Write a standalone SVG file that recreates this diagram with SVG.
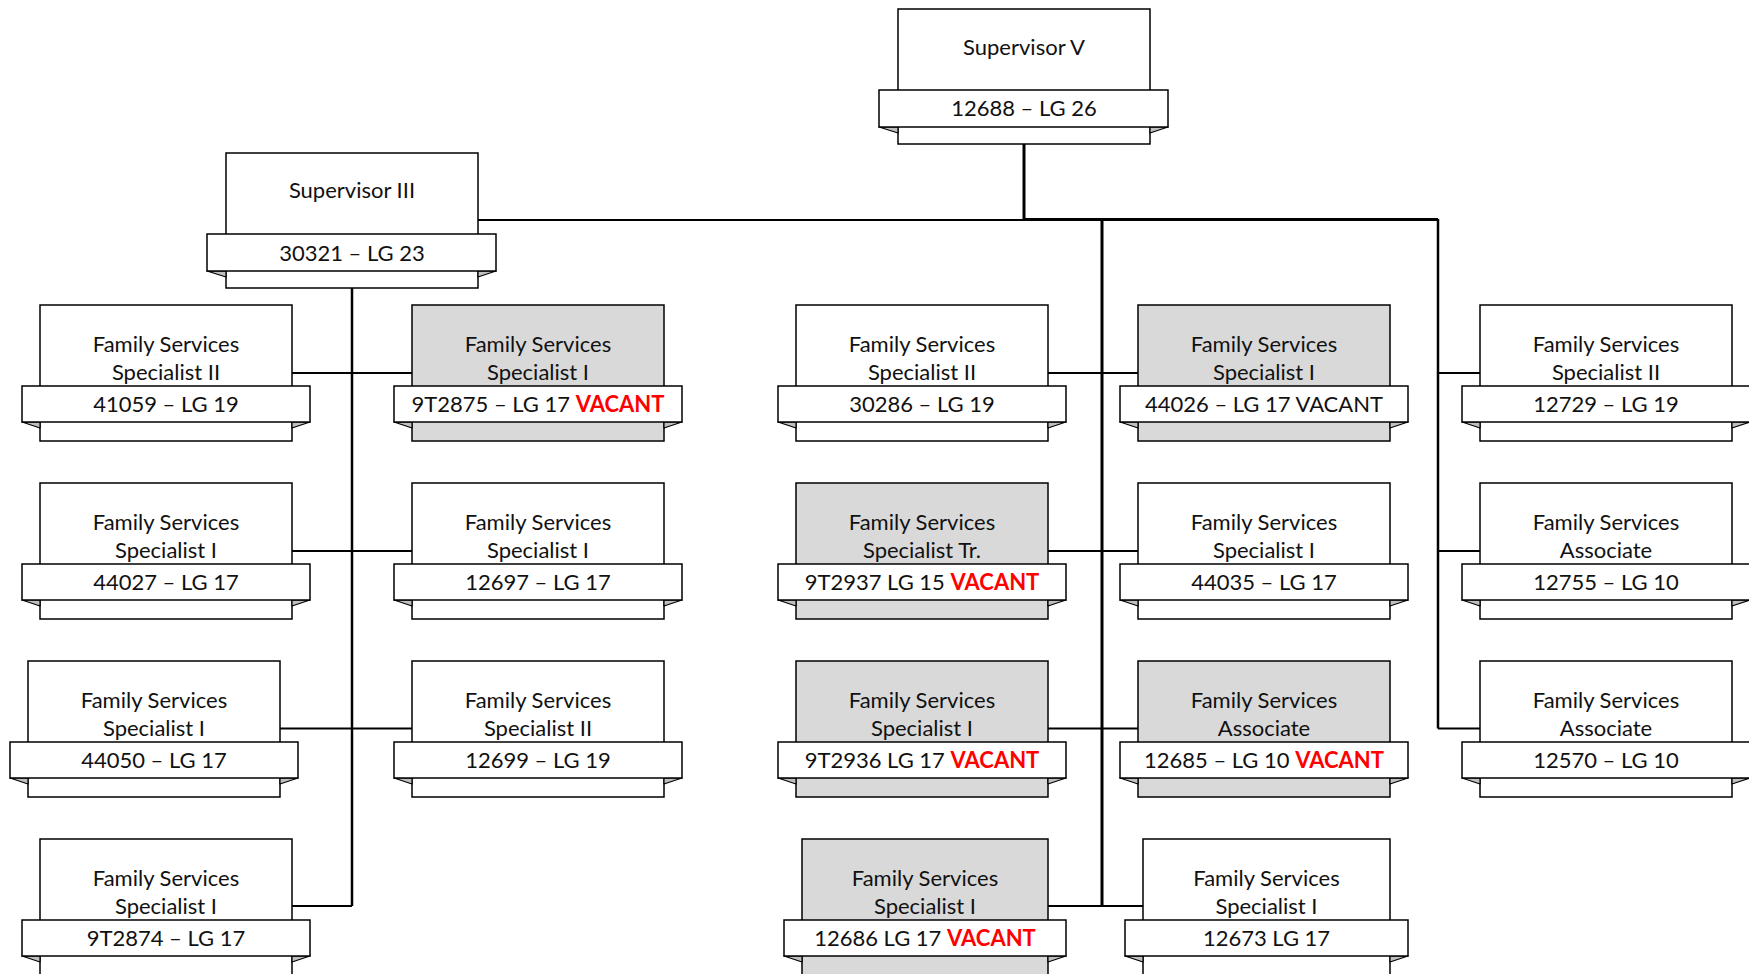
<svg xmlns="http://www.w3.org/2000/svg" width="1749" height="974" viewBox="0 0 1749 974">
<style>
.box{fill:#ffffff;stroke:#000;stroke-width:1.5}
.g{fill:#d9d9d9}
.rib{fill:#ffffff;stroke:#000;stroke-width:1.5}
.fold{fill:#bfbfbf;stroke:#000;stroke-width:1.2;stroke-linejoin:round}
.t{font-family:Lato,"Liberation Sans",sans-serif;font-size:22px;fill:#111;text-anchor:middle}
.v{fill:#ff0000;font-weight:bold}
.c{fill:none;stroke:#000;stroke-width:2}
.ct{fill:none;stroke:#000;stroke-width:3}
</style>
<rect width="1749" height="974" fill="#ffffff"/>
<g id="connectors">
<path class="ct" d="M1024,144 V220"/>
<path class="c" d="M478,220 H1024"/>
<path class="ct" d="M1024,219.5 H1438"/>
<path class="ct" d="M1102,219 V906"/>
<path class="c" d="M1438,219 V728.5" style="stroke-width:2.5"/>
<path class="c" d="M352,288 V906" style="stroke-width:2.5"/>
<path class="c" d="M292,373 H412 M292,551 H412 M280,728.5 H412 M292,906 H352"/>
<path class="c" d="M1048,373 H1138 M1048,551 H1138 M1048,728.5 H1138 M1048,906 H1143"/>
<path class="c" d="M1438,373 H1480 M1438,551 H1480 M1438,728.5 H1480"/>
</g>
<g id="sup5">
<rect class="box" x="898" y="9" width="252" height="135"/>
<polygon class="fold" points="879,127 898,127 898,133"/>
<polygon class="fold" points="1168,127 1150,127 1150,133"/>
<rect class="rib" x="879" y="90" width="289" height="37"/>
<text class="t" x="1024" y="55">Supervisor V</text>
<text class="t" x="1024" y="116">12688 – LG 26</text>
</g>
<g id="sup3">
<rect class="box" x="226" y="153" width="252" height="135"/>
<polygon class="fold" points="207,271 226,271 226,277"/>
<polygon class="fold" points="496,271 478,271 478,277"/>
<rect class="rib" x="207" y="234" width="289" height="37"/>
<text class="t" x="352" y="198">Supervisor III</text>
<text class="t" x="352" y="261">30321 – LG 23</text>
</g>
<!-- Row 1 -->
<g id="n41059">
<rect class="box" x="40" y="305" width="252" height="136"/>
<polygon class="fold" points="22,422 40,422 40,428"/>
<polygon class="fold" points="310,422 292,422 292,428"/>
<rect class="rib" x="22" y="386" width="288" height="36"/>
<text class="t" x="166" y="352">Family Services</text>
<text class="t" x="166" y="380">Specialist II</text>
<text class="t" x="166" y="412">41059 – LG 19</text>
</g>
<g id="n9T2875">
<rect class="box g" x="412" y="305" width="252" height="136"/>
<polygon class="fold" points="394,422 412,422 412,428"/>
<polygon class="fold" points="682,422 664,422 664,428"/>
<rect class="rib" x="394" y="386" width="288" height="36"/>
<text class="t" x="538" y="352">Family Services</text>
<text class="t" x="538" y="380">Specialist I</text>
<text class="t" x="538" y="412">9T2875 – LG 17 <tspan class="v">VACANT</tspan></text>
</g>
<g id="n30286">
<rect class="box" x="796" y="305" width="252" height="136"/>
<polygon class="fold" points="778,422 796,422 796,428"/>
<polygon class="fold" points="1066,422 1048,422 1048,428"/>
<rect class="rib" x="778" y="386" width="288" height="36"/>
<text class="t" x="922" y="352">Family Services</text>
<text class="t" x="922" y="380">Specialist II</text>
<text class="t" x="922" y="412">30286 – LG 19</text>
</g>
<g id="n44026">
<rect class="box g" x="1138" y="305" width="252" height="136"/>
<polygon class="fold" points="1120,422 1138,422 1138,428"/>
<polygon class="fold" points="1408,422 1390,422 1390,428"/>
<rect class="rib" x="1120" y="386" width="288" height="36"/>
<text class="t" x="1264" y="352">Family Services</text>
<text class="t" x="1264" y="380">Specialist I</text>
<text class="t" x="1264" y="412">44026 – LG 17 VACANT</text>
</g>
<g id="n12729">
<rect class="box" x="1480" y="305" width="252" height="136"/>
<polygon class="fold" points="1462,422 1480,422 1480,428"/>
<polygon class="fold" points="1750,422 1732,422 1732,428"/>
<rect class="rib" x="1462" y="386" width="288" height="36"/>
<text class="t" x="1606" y="352">Family Services</text>
<text class="t" x="1606" y="380">Specialist II</text>
<text class="t" x="1606" y="412">12729 – LG 19</text>
</g>
<!-- Row 2 -->
<g id="n44027">
<rect class="box" x="40" y="483" width="252" height="136"/>
<polygon class="fold" points="22,600 40,600 40,606"/>
<polygon class="fold" points="310,600 292,600 292,606"/>
<rect class="rib" x="22" y="564" width="288" height="36"/>
<text class="t" x="166" y="530">Family Services</text>
<text class="t" x="166" y="558">Specialist I</text>
<text class="t" x="166" y="590">44027 – LG 17</text>
</g>
<g id="n12697">
<rect class="box" x="412" y="483" width="252" height="136"/>
<polygon class="fold" points="394,600 412,600 412,606"/>
<polygon class="fold" points="682,600 664,600 664,606"/>
<rect class="rib" x="394" y="564" width="288" height="36"/>
<text class="t" x="538" y="530">Family Services</text>
<text class="t" x="538" y="558">Specialist I</text>
<text class="t" x="538" y="590">12697 – LG 17</text>
</g>
<g id="n9T2937">
<rect class="box g" x="796" y="483" width="252" height="136"/>
<polygon class="fold" points="778,600 796,600 796,606"/>
<polygon class="fold" points="1066,600 1048,600 1048,606"/>
<rect class="rib" x="778" y="564" width="288" height="36"/>
<text class="t" x="922" y="530">Family Services</text>
<text class="t" x="922" y="558">Specialist Tr.</text>
<text class="t" x="922" y="590">9T2937 LG 15 <tspan class="v">VACANT</tspan></text>
</g>
<g id="n44035">
<rect class="box" x="1138" y="483" width="252" height="136"/>
<polygon class="fold" points="1120,600 1138,600 1138,606"/>
<polygon class="fold" points="1408,600 1390,600 1390,606"/>
<rect class="rib" x="1120" y="564" width="288" height="36"/>
<text class="t" x="1264" y="530">Family Services</text>
<text class="t" x="1264" y="558">Specialist I</text>
<text class="t" x="1264" y="590">44035 – LG 17</text>
</g>
<g id="n12755">
<rect class="box" x="1480" y="483" width="252" height="136"/>
<polygon class="fold" points="1462,600 1480,600 1480,606"/>
<polygon class="fold" points="1750,600 1732,600 1732,606"/>
<rect class="rib" x="1462" y="564" width="288" height="36"/>
<text class="t" x="1606" y="530">Family Services</text>
<text class="t" x="1606" y="558">Associate</text>
<text class="t" x="1606" y="590">12755 – LG 10</text>
</g>
<!-- Row 3 -->
<g id="n44050">
<rect class="box" x="28" y="661" width="252" height="136"/>
<polygon class="fold" points="10,778 28,778 28,784"/>
<polygon class="fold" points="298,778 280,778 280,784"/>
<rect class="rib" x="10" y="742" width="288" height="36"/>
<text class="t" x="154" y="708">Family Services</text>
<text class="t" x="154" y="736">Specialist I</text>
<text class="t" x="154" y="768">44050 – LG 17</text>
</g>
<g id="n12699">
<rect class="box" x="412" y="661" width="252" height="136"/>
<polygon class="fold" points="394,778 412,778 412,784"/>
<polygon class="fold" points="682,778 664,778 664,784"/>
<rect class="rib" x="394" y="742" width="288" height="36"/>
<text class="t" x="538" y="708">Family Services</text>
<text class="t" x="538" y="736">Specialist II</text>
<text class="t" x="538" y="768">12699 – LG 19</text>
</g>
<g id="n9T2936">
<rect class="box g" x="796" y="661" width="252" height="136"/>
<polygon class="fold" points="778,778 796,778 796,784"/>
<polygon class="fold" points="1066,778 1048,778 1048,784"/>
<rect class="rib" x="778" y="742" width="288" height="36"/>
<text class="t" x="922" y="708">Family Services</text>
<text class="t" x="922" y="736">Specialist I</text>
<text class="t" x="922" y="768">9T2936 LG 17 <tspan class="v">VACANT</tspan></text>
</g>
<g id="n12685">
<rect class="box g" x="1138" y="661" width="252" height="136"/>
<polygon class="fold" points="1120,778 1138,778 1138,784"/>
<polygon class="fold" points="1408,778 1390,778 1390,784"/>
<rect class="rib" x="1120" y="742" width="288" height="36"/>
<text class="t" x="1264" y="708">Family Services</text>
<text class="t" x="1264" y="736">Associate</text>
<text class="t" x="1264" y="768">12685 – LG 10 <tspan class="v">VACANT</tspan></text>
</g>
<g id="n12570">
<rect class="box" x="1480" y="661" width="252" height="136"/>
<polygon class="fold" points="1462,778 1480,778 1480,784"/>
<polygon class="fold" points="1750,778 1732,778 1732,784"/>
<rect class="rib" x="1462" y="742" width="288" height="36"/>
<text class="t" x="1606" y="708">Family Services</text>
<text class="t" x="1606" y="736">Associate</text>
<text class="t" x="1606" y="768">12570 – LG 10</text>
</g>
<!-- Row 4 -->
<g id="n9T2874">
<rect class="box" x="40" y="839" width="252" height="136"/>
<polygon class="fold" points="22,956 40,956 40,962"/>
<polygon class="fold" points="310,956 292,956 292,962"/>
<rect class="rib" x="22" y="920" width="288" height="36"/>
<text class="t" x="166" y="886">Family Services</text>
<text class="t" x="166" y="914">Specialist I</text>
<text class="t" x="166" y="946">9T2874 – LG 17</text>
</g>
<g id="n12686">
<rect class="box g" x="802" y="839" width="246" height="136"/>
<polygon class="fold" points="784,956 802,956 802,962"/>
<polygon class="fold" points="1066,956 1048,956 1048,962"/>
<rect class="rib" x="784" y="920" width="282" height="36"/>
<text class="t" x="925" y="886">Family Services</text>
<text class="t" x="925" y="914">Specialist I</text>
<text class="t" x="925" y="946">12686 LG 17 <tspan class="v">VACANT</tspan></text>
</g>
<g id="n12673">
<rect class="box" x="1143" y="839" width="247" height="136"/>
<polygon class="fold" points="1125,956 1143,956 1143,962"/>
<polygon class="fold" points="1408,956 1390,956 1390,962"/>
<rect class="rib" x="1125" y="920" width="283" height="36"/>
<text class="t" x="1266.5" y="886">Family Services</text>
<text class="t" x="1266.5" y="914">Specialist I</text>
<text class="t" x="1266.5" y="946">12673 LG 17</text>
</g>
</svg>
